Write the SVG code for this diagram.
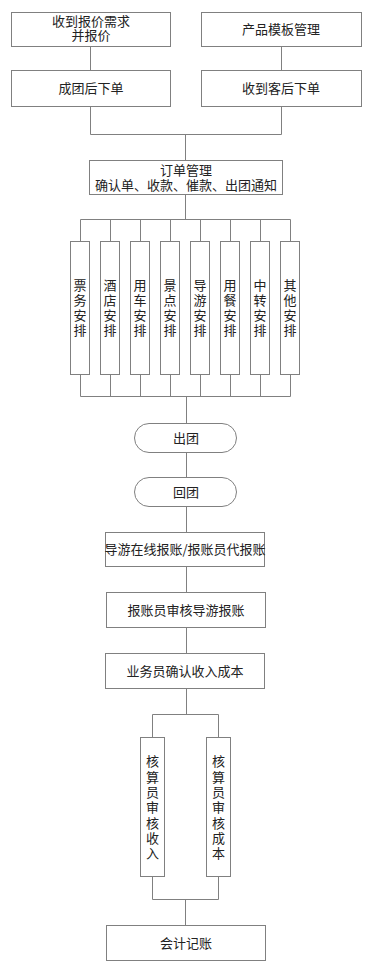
<svg xmlns="http://www.w3.org/2000/svg" width="373" height="975" viewBox="0 0 373 975">
<style>
.b{fill:#fff;stroke:#808080;stroke-width:1}
.c{fill:none;stroke:#808080;stroke-width:1}
text{font-family:"Noto Sans CJK SC","Liberation Sans",sans-serif;font-size:13px;fill:#222;text-anchor:middle}
.v{writing-mode:vertical-rl;letter-spacing:2px}
.v2{writing-mode:vertical-rl;letter-spacing:2.3px}
</style>
<rect width="373" height="975" fill="#fff"/>
<g id="connectors">
<path class="c" d="M90.5 46V70M281.5 46V70"/>
<path class="c" d="M90.5 106V134.5H281.5V106M185.5 134.5V160"/>
<path class="c" d="M185.5 194V219.5M80.5 241V219.5H290.5V241M110.5 219.5V241M140.5 219.5V241M170.5 219.5V241M200.5 219.5V241M230.5 219.5V241M260.5 219.5V241"/>
<path class="c" d="M80.5 374V396.5H290.5V374M110.5 374V396.5M140.5 374V396.5M170.5 374V396.5M200.5 374V396.5M230.5 374V396.5M260.5 374V396.5M186.5 396.5V423"/>
<path class="c" d="M186.5 453V477M186.5 507V532M186.5 566V592M186.5 627V653M186.5 688V714.5"/>
<path class="c" d="M152.5 737V714.5H218.5V737M152.5 876V899.5H218.5V876M185.5 899.5V925"/>
</g>
<g id="n1"><rect class="b" x="11.5" y="12.5" width="159" height="34"/><text x="91" y="26">收到报价需求<tspan x="91" y="40">并报价</tspan></text></g>
<g id="n2"><rect class="b" x="201.5" y="12.5" width="160" height="34"/><text x="281" y="34">产品模板管理</text></g>
<g id="n3"><rect class="b" x="11.5" y="70.5" width="159" height="36"/><text x="91" y="93">成团后下单</text></g>
<g id="n4"><rect class="b" x="201.5" y="70.5" width="160" height="36"/><text x="281" y="93">收到客后下单</text></g>
<g id="n5"><rect class="b" x="89.5" y="160.5" width="193" height="34"/><text x="186" y="174.5">订单管理<tspan x="186" y="189.5">确认单、收款、催款、出团通知</tspan></text></g>
<g id="n6"><rect class="b" x="70.5" y="241.5" width="19" height="133"/><text class="v" x="80" y="308.5">票务安排</text></g>
<g id="n7"><rect class="b" x="100.5" y="241.5" width="19" height="133"/><text class="v" x="110" y="308.5">酒店安排</text></g>
<g id="n8"><rect class="b" x="130.5" y="241.5" width="19" height="133"/><text class="v" x="140" y="308.5">用车安排</text></g>
<g id="n9"><rect class="b" x="160.5" y="241.5" width="19" height="133"/><text class="v" x="170" y="308.5">景点安排</text></g>
<g id="n10"><rect class="b" x="190.5" y="241.5" width="19" height="133"/><text class="v" x="200" y="308.5">导游安排</text></g>
<g id="n11"><rect class="b" x="220.5" y="241.5" width="19" height="133"/><text class="v" x="230" y="308.5">用餐安排</text></g>
<g id="n12"><rect class="b" x="250.5" y="241.5" width="19" height="133"/><text class="v" x="260" y="308.5">中转安排</text></g>
<g id="n13"><rect class="b" x="280.5" y="241.5" width="19" height="133"/><text class="v" x="290" y="308.5">其他安排</text></g>
<g id="n14"><rect class="b" x="134.5" y="423.5" width="102" height="29" rx="14.5"/><text x="186" y="442.5">出团</text></g>
<g id="n15"><rect class="b" x="134.5" y="477.5" width="102" height="29" rx="14.5"/><text x="186" y="496.5">回团</text></g>
<g id="n16"><rect class="b" x="105.5" y="532.5" width="159" height="34"/><text x="185" y="553.5">导游在线报账/报账员代报账</text></g>
<g id="n17"><rect class="b" x="106.5" y="592.5" width="159" height="35"/><text x="186" y="614.5">报账员审核导游报账</text></g>
<g id="n18"><rect class="b" x="105.5" y="653.5" width="159" height="35"/><text x="185" y="675.5">业务员确认收入成本</text></g>
<g id="n19"><rect class="b" x="140.5" y="737.5" width="24" height="139"/><text class="v2" x="152.5" y="808.5">核算员审核收入</text></g>
<g id="n20"><rect class="b" x="206.5" y="737.5" width="24" height="139"/><text class="v2" x="218.5" y="808.5">核算员审核成本</text></g>
<g id="n21"><rect class="b" x="106.5" y="925.5" width="159" height="35"/><text x="186" y="947.5">会计记账</text></g>
</svg>
